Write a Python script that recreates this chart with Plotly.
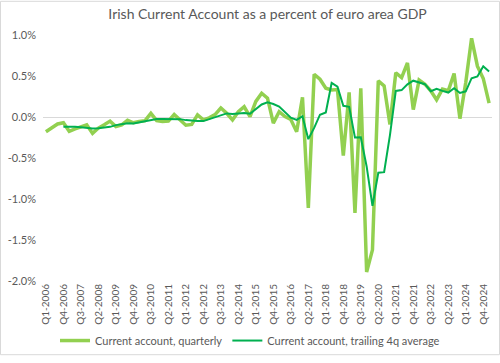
import plotly.graph_objects as go

# Quarter categories Q1-2006 .. Q1-2025
years = list(range(2006, 2026))
quarters = [f"Q{q}-{y}" for y in years for q in (1, 2, 3, 4)][:77]

# Current account, quarterly (% of euro area GDP)
quarterly = [
    -0.18, -0.135, -0.085, -0.07, -0.175, -0.145, -0.115, -0.095,
    -0.20, -0.135, -0.095, -0.05, -0.115, -0.095, -0.04, -0.07,
    -0.055, -0.045, 0.045, -0.045, -0.055, -0.05, 0.03, -0.03,
    -0.10, -0.09, 0.025, -0.035, -0.01, 0.03, 0.11, 0.045,
    -0.035, 0.065, 0.125, 0.005, 0.19, 0.29, 0.23, -0.075,
    0.065, 0.005, -0.03, -0.18, 0.24, -1.11, 0.52, 0.46,
    0.35, 0.33, 0.335, -0.47, 0.30, -1.17, 0.35, -1.89,
    -1.62, 0.44, 0.38, -0.09, 0.54, 0.48, 0.66, 0.09,
    0.45, 0.40, 0.32, 0.21, 0.34, 0.32, 0.53, -0.02,
    0.42, 0.96, 0.62, 0.47, 0.17,
]

# Current account, trailing 4q average (starts at Q4-2006)
trailing = [
    None, None, None, -0.118, -0.116, -0.119, -0.126, -0.133,
    -0.139, -0.136, -0.131, -0.120, -0.099, -0.089, -0.075, -0.080,
    -0.065, -0.053, -0.031, -0.025, -0.025, -0.026, -0.030, -0.026,
    -0.038, -0.048, -0.049, -0.050, -0.028, 0.003, 0.024, 0.044,
    0.038, 0.046, 0.050, 0.040, 0.096, 0.153, 0.179, 0.159,
    0.128, 0.056, -0.009, -0.035, 0.009, -0.270, -0.133, 0.028,
    0.055, 0.415, 0.369, 0.136, 0.124, -0.251, -0.248, -0.603,
    -1.083, -0.680, -0.673, -0.220, 0.318, 0.328, 0.398, 0.443,
    0.420, 0.400, 0.315, 0.345, 0.318, 0.298, 0.350, 0.293,
    0.313, 0.473, 0.495, 0.618, 0.555,
]

tick_labels = quarters[0:76:3]
y_ticks = [1.0, 0.5, 0.0, -0.5, -1.0, -1.5, -2.0]

FONT = "Lato"
GREY = "#595959"

fig = go.Figure()
fig.add_trace(go.Scatter(
    x=quarters, y=quarterly, mode="lines",
    name="Current account, quarterly",
    line=dict(color="#92D050", width=3.5),
))
fig.add_trace(go.Scatter(
    x=quarters, y=trailing, mode="lines",
    name="Current account, trailing 4q average",
    line=dict(color="#00B050", width=2),
))

# plot area: left 43, right 492, top 35, bottom 287 (pixels)
L, R, T, B = 43, 492, 35, 287
W, H = 500, 363
pw, ph = R - L, B - T
fig.add_shape(
    type="rect", xref="paper", yref="paper",
    x0=(0.5 - L) / pw, x1=(W - 0.5 - L) / pw,
    y0=(B - (H - 0.5)) / ph, y1=(B - 0.5) / ph,
    line=dict(color="#d9d9d9", width=1), fillcolor="rgba(0,0,0,0)",
    layer="below",
)

fig.update_layout(
    width=W, height=H,
    margin=dict(l=L, r=W - R, t=T, b=H - B),
    paper_bgcolor="white", plot_bgcolor="white",
    font=dict(family=FONT, color=GREY, size=11),
    title=dict(
        text="Irish Current Account as a percent of euro area GDP",
        x=0.5, xref="paper", xanchor="center",
        y=1 - 14 / H, yanchor="middle",
        font=dict(family=FONT, size=14, color=GREY),
    ),
    showlegend=True,
    legend=dict(
        orientation="h", x=(250 - L) / pw, xanchor="center",
        y=(B - 348) / ph, yanchor="middle",
        font=dict(family=FONT, size=11, color=GREY),
        bgcolor="rgba(0,0,0,0)",
        itemwidth=30,
    ),
    xaxis=dict(
        type="category",
        categoryorder="array", categoryarray=quarters,
        range=[-0.5, len(quarters) - 0.5],
        tickmode="array", tickvals=tick_labels, ticktext=tick_labels,
        tickangle=-90, tickfont=dict(size=10, color=GREY, family=FONT),
        showgrid=False, showline=False, ticks="", zeroline=False,
    ),
    yaxis=dict(
        range=[-2.0, 1.0],
        tickmode="array", tickvals=y_ticks,
        ticktext=[f"{v:.1f}%" for v in y_ticks],
        tickfont=dict(size=11, color=GREY, family=FONT),
        showgrid=False, showline=False, ticks="",
        zeroline=True, zerolinecolor="#d9d9d9", zerolinewidth=1,
        ticklabelstandoff=6,
    ),
)

fig.write_html(
    "out.html",
    config={"displayModeBar": False},
    post_script="document.body.style.margin='0';document.body.style.padding='0';",
)
